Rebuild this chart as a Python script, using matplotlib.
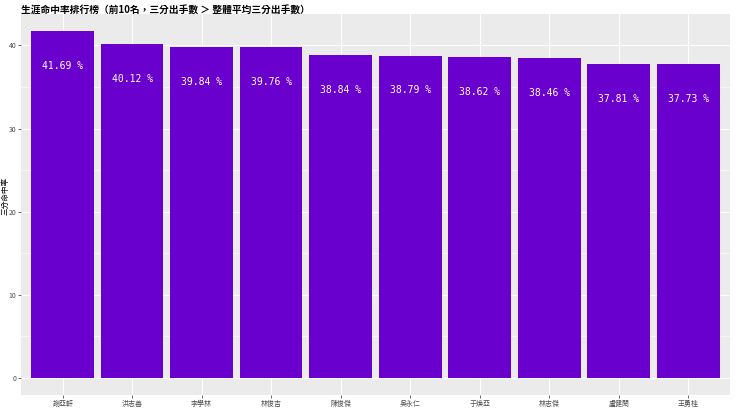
import matplotlib.pyplot as plt

plt.rcParams['font.family'] = ['Noto Sans CJK TC', 'DejaVu Sans']

players = ["謝亞軒", "洪志善", "李學林", "林俊吉", "陳俊傑",
           "吳永仁", "于煥亞", "林志傑", "盧健閎", "王勇桂"]
pct = [41.69, 40.12, 39.84, 39.76, 38.84, 38.79, 38.62, 38.46, 37.81, 37.73]
yticks = [0, 10, 20, 30, 40]

fig = plt.figure(figsize=(7.4, 4.16), dpi=100)
ax = fig.add_axes([0.0284, 0.0505, 0.958, 0.9155])
ax.set_facecolor('#EBEBEB')

x = list(range(len(players)))
ax.bar(x, pct, width=0.9, color='#6A00CD', zorder=3)
for i, v in enumerate(pct):
    ax.text(i, v - 4.2, f"{v:.2f} %", ha='center', va='center', color='white',
            fontsize=7, family='DejaVu Sans Mono', zorder=4)

ax.set_xlim(-0.6, len(players) - 0.4)
ax.set_ylim(-2.08, 43.77)
ax.set_xticks(x)
ax.set_xticklabels(players, fontsize=5, color='#4D4D4D')
ax.set_yticks(yticks)
ax.set_yticklabels([str(t) for t in yticks], fontsize=5, color='#4D4D4D')
ax.set_yticks([5, 15, 25, 35], minor=True)
ax.grid(which='major', color='white', linewidth=0.8, zorder=0)
ax.grid(which='minor', axis='y', color='white', linewidth=0.4, zorder=0)
ax.tick_params(which='major', length=2, width=0.5, color='#333333', pad=1.5)
ax.tick_params(which='minor', length=0)
for s in ax.spines.values():
    s.set_visible(False)

fig.text(0.008, 0.53, "三分命中率", fontsize=5.5, rotation=90, ha='center', va='center')
fig.text(0.0284, 0.986, "生涯命中率排行榜（前10名，三分出手數 ＞ 整體平均三分出手數）",
         fontsize=7, fontweight='bold', ha='left', va='top')

fig.savefig('out.png', dpi=100)
